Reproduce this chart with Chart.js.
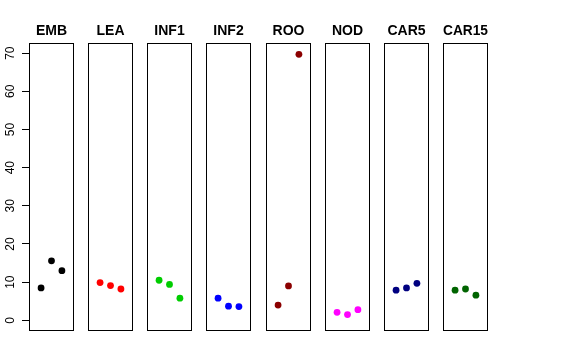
<!DOCTYPE html>
<html lang="en">
<head>
<meta charset="UTF-8" />
<title>Expression by tissue</title>
<script src="https://cdn.jsdelivr.net/npm/chart.js"></script>
<style>
  body { margin: 0; background: #fff; }
  #wrap { position: relative; width: 576px; height: 360px; }
  #wrap canvas { position: absolute; top: 0; }
</style>
</head>
<body>
<div id="wrap"></div>
<script>
// one panel per tissue, three replicates each (x = 1, 2, 3)
const tissues = ['EMB', 'LEA', 'INF1', 'INF2', 'ROO', 'NOD', 'CAR5', 'CAR15'];
const reps = [1, 2, 3];

const emb = [8.5, 15.6, 13.0];
const lea = [9.9, 9.1, 8.2];
const inf1 = [10.5, 9.4, 5.8];
const inf2 = [5.8, 3.7, 3.6];
const roo = [4.0, 9.0, 69.7];
const nod = [2.1, 1.5, 2.8];
const car5 = [7.9, 8.5, 9.7];
const car15 = [7.9, 8.2, 6.6];

const values = [emb, lea, inf1, inf2, roo, nod, car5, car15];
const colors = ['#000000', '#ff0000', '#00cd00', '#0000ff', '#8b0000', '#ff00ff', '#000080', '#006400'];
const yTicks = [0, 10, 20, 30, 40, 50, 60, 70];

const font = 'Liberation Sans, Arial, sans-serif';
const yMin = -2.8, yMax = 72.8;
const topH = 42.5;              // title block height
const axisW = 29, panelW = 45, pitch = 59.15;

// box around each panel
const frame = {
  id: 'frame',
  afterDraw(chart) {
    const a = chart.chartArea, c = chart.ctx;
    const l = Math.round(a.left) + 0.5, r = Math.round(a.right) - 0.5;
    const t = Math.round(a.top) + 0.5, b = Math.round(a.bottom) - 0.5;
    c.save();
    c.strokeStyle = '#000';
    c.lineWidth = 1;
    c.strokeRect(l, t, r - l, b - t);
    c.restore();
  }
};

const wrap = document.getElementById('wrap');

function addCanvas(left, w) {
  const cv = document.createElement('canvas');
  cv.width = w;
  cv.height = 331;
  cv.style.left = left + 'px';
  wrap.appendChild(cv);
  return cv;
}

// shared y axis on the left
new Chart(addCanvas(0, axisW + 1), {
  type: 'scatter',
  data: { datasets: [] },
  options: {
    responsive: false,
    animation: false,
    events: [],
    layout: { padding: { top: topH, bottom: 0, left: 0, right: 0 }, autoPadding: false },
    plugins: { legend: { display: false }, tooltip: { enabled: false } },
    scales: {
      x: { type: 'linear', display: false, min: 0, max: 1 },
      y: {
        type: 'linear',
        min: yMin,
        max: yMax,
        afterBuildTicks: s => { s.ticks = yTicks.map(v => ({ value: v })); },
        afterFit: s => { s.width = axisW; s.paddingTop = 0; s.paddingBottom = 0; },
        border: { display: false },
        grid: { drawOnChartArea: false, drawTicks: true, tickLength: 7, color: '#000' },
        ticks: {
          autoSkip: false,
          minRotation: 90,
          maxRotation: 90,
          crossAlign: 'center',
          padding: 5,
          color: '#000',
          font: { family: font, size: 12 }
        }
      }
    }
  }
});

tissues.forEach((name, i) => {
  const left = Math.round(axisW + i * pitch);
  new Chart(addCanvas(left, panelW), {
    type: 'scatter',
    data: {
      datasets: [{
        data: reps.map((x, k) => ({ x: x, y: values[i][k] })),
        backgroundColor: colors[i],
        borderWidth: 0,
        pointRadius: 3.4,
        pointHoverRadius: 3.4
      }]
    },
    options: {
      responsive: false,
      animation: false,
      events: [],
      layout: { padding: 0, autoPadding: false },
      plugins: {
        legend: { display: false },
        tooltip: { enabled: false },
        title: {
          display: true,
          text: name,
          color: '#000',
          font: { family: font, size: 14, weight: 'bold', lineHeight: 1.2 },
          padding: { top: 22.5, bottom: 3.2 }
        }
      },
      scales: {
        x: { type: 'linear', display: false, min: -0.16, max: 4.16 },
        y: { type: 'linear', display: false, min: yMin, max: yMax }
      }
    },
    plugins: [frame]
  });
});
</script>
</body>
</html>
